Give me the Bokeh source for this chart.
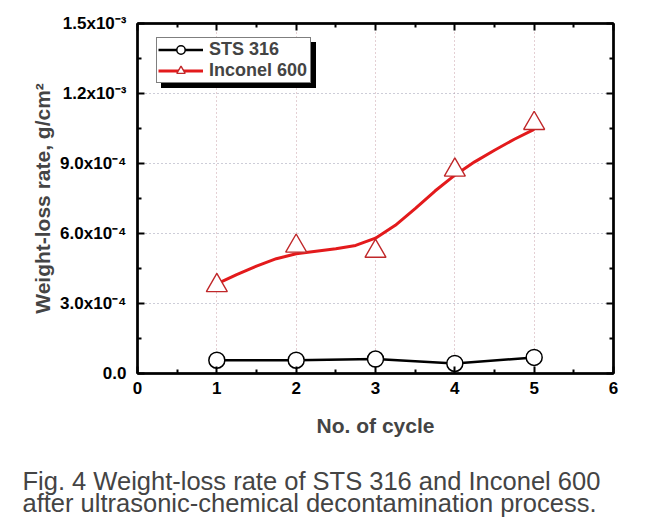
from bokeh.plotting import figure
from bokeh.models import (LinearAxis, FixedTicker, Range1d, Legend, LegendItem, Title)
from bokeh.embed import file_html
from bokeh.resources import INLINE

# ---- data ----
cycles = [1, 2, 3, 4, 5]
sts316 = [5.7e-5, 5.7e-5, 6.2e-5, 4.3e-5, 6.9e-5]
inconel600 = [3.77e-4, 5.46e-4, 5.24e-4, 8.72e-4, 1.072e-3]

# smoothed curve drawn through the Inconel 600 points
fit_x = [1.0, 1.25, 1.5, 1.75, 2.0, 2.25, 2.5, 2.75, 3.0, 3.25, 3.5, 3.75, 4.0, 4.25, 4.5, 4.75, 5.0]
fit_y = [3.84e-4, 4.24e-4, 4.60e-4, 4.92e-4, 5.13e-4, 5.24e-4, 5.35e-4, 5.49e-4, 5.80e-4,
         6.35e-4, 7.07e-4, 7.82e-4, 8.50e-4, 9.07e-4, 9.57e-4, 1.004e-3, 1.046e-3]

x_ticks = [0, 1, 2, 3, 4, 5, 6]
x_minor = [0.5, 1.5, 2.5, 3.5, 4.5, 5.5]
y_ticks = [0.0, 3e-4, 6e-4, 9e-4, 1.2e-3, 1.5e-3]
y_minor = [1.5e-4, 4.5e-4, 7.5e-4, 1.05e-3, 1.35e-3]
y_tick_labels = ["0.0", "3.0x10\u207b\u2074", "6.0x10\u207b\u2074", "9.0x10\u207b\u2074",
                 "1.2x10\u207b\u00b3", "1.5x10\u207b\u00b3"]

series_names = ["STS 316", "Inconel 600"]
caption_lines = ["Fig. 4 Weight-loss rate of STS 316 and Inconel 600",
                 "after ultrasonic-chemical decontamination process."]

FONT = "Liberation Sans"

p = figure(width=641, height=521, output_backend="svg", toolbar_location=None,
           x_range=Range1d(0, 6), y_range=Range1d(0, 1.5e-3),
           min_border_left=137, min_border_right=28, min_border_top=23, min_border_bottom=148)
p.outline_line_color = "black"
p.outline_line_width = 2
p.background_fill_color = "white"
p.border_fill_color = "white"

xt = FixedTicker(ticks=x_ticks, minor_ticks=x_minor)
yt = FixedTicker(ticks=y_ticks, minor_ticks=y_minor)

def style_axis(ax, labels=True):
    ax.axis_line_width = 2.5
    ax.axis_line_color = "black"
    ax.major_tick_in = 7
    ax.major_tick_out = 0
    ax.minor_tick_in = 4
    ax.minor_tick_out = 0
    ax.major_tick_line_width = 2
    ax.minor_tick_line_width = 2
    ax.major_label_text_font = FONT
    ax.major_label_text_font_style = "bold"
    ax.major_label_text_font_size = "17px"
    ax.major_label_text_color = "black"
    if not labels:
        ax.major_label_text_font_size = "0px"
        ax.major_label_text_alpha = 0

xa = p.xaxis[0]
xa.ticker = xt
style_axis(xa)
xa.major_label_standoff = 8
xa.axis_label = "No. of cycle"
xa.axis_label_text_font = FONT
xa.axis_label_text_font_style = "bold"
xa.axis_label_text_font_size = "21px"
xa.axis_label_standoff = 17

ya = p.yaxis[0]
ya.ticker = yt
style_axis(ya)
ya.major_label_overrides = {t: s for t, s in zip(y_ticks, y_tick_labels)}
ya.major_label_standoff = 11
ya.axis_label = "Weight-loss rate, g/cm\u00b2"
ya.axis_label_text_font = FONT
ya.axis_label_text_font_style = "bold"
ya.axis_label_text_font_size = "21px"
ya.axis_label_standoff = 3

top_ax = LinearAxis(ticker=xt)
style_axis(top_ax, labels=False)
p.add_layout(top_ax, "above")
right_ax = LinearAxis(ticker=yt)
style_axis(right_ax, labels=False)
p.add_layout(right_ax, "right")

p.xgrid.ticker = xt
p.ygrid.ticker = yt
p.xgrid.grid_line_color = "#c8a0a8"
p.ygrid.grid_line_color = "#9a9ab0"
for g in (p.xgrid, p.ygrid):
    g.grid_line_dash = "1 3"
    g.grid_line_width = 1

# invisible renderers used only for the legend's drop shadow
sh1 = p.line([], [], line_alpha=0)
sh2 = p.line([], [], line_alpha=0)

# series
l1 = p.line(cycles, sts316, line_color="black", line_width=2.5)
s1 = p.scatter(cycles, sts316, marker="circle", size=16, fill_color="white",
               line_color="black", line_width=1.5)
l2 = p.line(fit_x, fit_y, line_color="#e31a1c", line_width=3)
s2 = p.scatter(cycles, inconel600, marker="triangle", size=21, fill_color="white",
               line_color="#c0282a", line_width=1.4)

def make_legend(items, loc):
    lg = Legend(items=items, location=loc)
    lg.padding = 1
    lg.margin = 0
    lg.spacing = 0
    lg.glyph_width = 45
    lg.glyph_height = 21
    lg.label_height = 21
    lg.label_width = 100
    lg.label_standoff = 6
    lg.label_text_font = FONT
    lg.label_text_font_style = "bold"
    lg.label_text_font_size = "18px"
    lg.border_line_color = "black"
    lg.border_line_width = 1
    lg.background_fill_alpha = 1
    return lg

shadow = make_legend([LegendItem(label=" ", renderers=[sh1]),
                      LegendItem(label=" ", renderers=[sh2])], (24, 285))
shadow.background_fill_color = "black"
p.add_layout(shadow)

leg = make_legend([LegendItem(label=series_names[0], renderers=[l1, s1]),
                   LegendItem(label=series_names[1], renderers=[l2, s2])], (19, 290))
leg.background_fill_color = "white"
p.add_layout(leg)

# figure caption (leading blank line gives the gap above it)
cap = Title(text=" \n" + "\n".join(caption_lines), align="left", offset=-115,
            text_font=FONT, text_font_style="normal", text_font_size="25.5px",
            text_line_height=0.81, standoff=6)
p.add_layout(cap, "below")

open("out.html", "w").write(file_html(p, INLINE))
